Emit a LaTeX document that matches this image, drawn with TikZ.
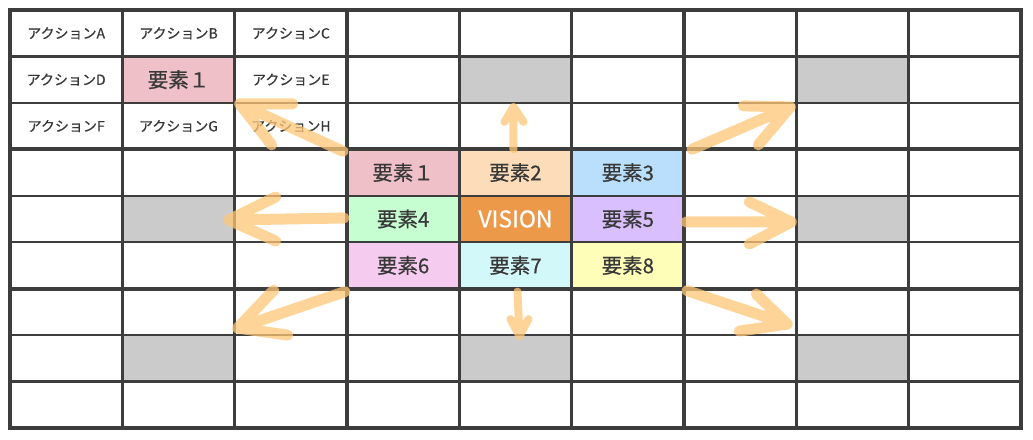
\documentclass[tikz,border=0pt]{standalone}
\usepackage{fontspec}
\setmainfont{Noto Sans CJK JP}[FakeBold=0.5]

\definecolor{gridline}{HTML}{3D3D3D}
\definecolor{textgray}{HTML}{383838}
\definecolor{blankgray}{HTML}{CBCBCB}
\definecolor{arroworange}{HTML}{FEC677}
\definecolor{visionorange}{HTML}{EC9A4A}
\definecolor{el1}{HTML}{F0C0C8}
\definecolor{el2}{HTML}{FDDDB9}
\definecolor{el3}{HTML}{B9DFFD}
\definecolor{el4}{HTML}{C6FDD1}
\definecolor{el5}{HTML}{D9BFFD}
\definecolor{el6}{HTML}{F5CCF0}
\definecolor{el7}{HTML}{D3F8FA}
\definecolor{el8}{HTML}{FEFEB9}

\begin{document}
\begin{tikzpicture}[
    x=1pt, y=-1pt,
    every node/.style={font=\fontsize{14}{16}\selectfont, text=textgray},
    cell/.style={minimum width=\cw pt, minimum height=\ch pt, inner sep=0pt, outer sep=0pt},
    element/.style={cell, font=\fontsize{20.5}{22}\selectfont},
    blank/.style={cell, fill=blankgray},
    thinline/.style={draw=gridline, line width=2.5pt},
    thickline/.style={draw=gridline, line width=4pt, line cap=rect},
    handarrow/.style={draw=arroworange, draw opacity=0.75, line width=11pt, line cap=round, line join=round}
]
    \def\cw{112.33}
    \def\ch{46.44}

    \useasboundingbox (0,0) rectangle (1033,439);

    % top-left block: actions
    \foreach \i/\j/\name/\txt in {
        0/0/actA/アクションA, 1/0/actB/アクションB, 2/0/actC/アクションC,
        0/1/actD/アクションD, 2/1/actE/アクションE,
        0/2/actF/アクションF, 1/2/actG/アクションG, 2/2/actH/アクションH
    }{
        \node[cell] (\name) at ({10+(\i+0.5)*\cw},{10+(\j+0.5)*\ch}) {\txt};
    }
    \node[element, fill=el1] (sub1) at ({10+1.5*\cw},{10+1.5*\ch}) {要素１};

    % centre block
    \foreach \i/\j/\name/\col/\txt in {
        3/3/e1/el1/要素１, 4/3/e2/el2/要素2, 5/3/e3/el3/要素3,
        3/4/e4/el4/要素4, 5/4/e5/el5/要素5,
        3/5/e6/el6/要素6, 4/5/e7/el7/要素7, 5/5/e8/el8/要素8
    }{
        \node[element, fill=\col] (\name) at ({10+(\i+0.5)*\cw},{10+(\j+0.5)*\ch}) {\txt};
    }
    \node[element, fill=visionorange, text=white, font=\fontsize{23}{25}\selectfont]
        (vision) at ({10+4.5*\cw},{10+4.5*\ch}) {VISION};

    % grey centres of the outer blocks
    \foreach \i/\j/\name in {4/1/sub2, 7/1/sub3, 1/4/sub4, 7/4/sub5, 1/7/sub6, 4/7/sub7, 7/7/sub8}{
        \node[blank] (\name) at ({10+(\i+0.5)*\cw},{10+(\j+0.5)*\ch}) {};
    }

    % grid
    \foreach \k in {1,2,4,5,7,8}{
        \draw[thinline] ({10+\k*\cw},10) -- ({10+\k*\cw},{10+9*\ch});
        \draw[thinline] (10,{10+\k*\ch}) -- ({10+9*\cw},{10+\k*\ch});
    }
    \foreach \k in {0,3,6,9}{
        \draw[thickline] ({10+\k*\cw},10) -- ({10+\k*\cw},{10+9*\ch});
        \draw[thickline] (10,{10+\k*\ch}) -- ({10+9*\cw},{10+\k*\ch});
    }

    % arrow tips
    \coordinate (tip1) at ([shift={(5,1)}]sub1.south east);
    \coordinate (tip2) at ([shift={(-2,4)}]sub2.south);
    \coordinate (tip3) at ([shift={(-6,4)}]sub3.south west);
    \coordinate (tip4) at ([shift={(-6,1)}]sub4.east);
    \coordinate (tip5) at ([shift={(-5,3)}]sub5.west);
    \coordinate (tip6) at ([shift={(3,-7)}]sub6.north east);
    \coordinate (tip7) at ([shift={(4,1)}]sub7.north);
    \coordinate (tip8) at ([shift={(-9,-11)}]sub8.north west);

    % hand drawn arrows
    \draw[handarrow] ([shift={(-4,2)}]e1.north west) -- (tip1)
        ([shift={(53,0)}]tip1) -- (tip1) -- ([shift={(32,41)}]tip1);
    \draw[handarrow, line width=8pt] ([shift={(-2,0)}]e2.north) -- (tip2)
        ([shift={(-9,15)}]tip2) -- (tip2) -- ([shift={(10,15)}]tip2);
    \draw[handarrow] ([shift={(8,0)}]e3.north east) -- (tip3)
        ([shift={(-47,-1)}]tip3) -- (tip3) -- ([shift={(-32,38)}]tip3);
    \draw[handarrow] ([shift={(-3,-1)}]e4.west) -- (tip4)
        ([shift={(47,-23)}]tip4) -- (tip4) -- ([shift={(47,21)}]tip4);
    \draw[handarrow] ([shift={(2,3)}]e5.east) -- (tip5)
        ([shift={(-42,-20)}]tip5) -- (tip5) -- ([shift={(-42,22)}]tip5);
    \draw[handarrow] ([shift={(-2,3)}]e6.south west) -- (tip6)
        ([shift={(36,-38)}]tip6) -- (tip6) -- ([shift={(50,7)}]tip6);
    \draw[handarrow, line width=8pt] ([shift={(2,3)}]e7.south) -- (tip7)
        ([shift={(-9,-17)}]tip7) -- (tip7) -- ([shift={(9,-17)}]tip7);
    \draw[handarrow] ([shift={(3,2)}]e8.south east) -- (tip8)
        ([shift={(-31,-30)}]tip8) -- (tip8) -- ([shift={(-48,7)}]tip8);
\end{tikzpicture}
\end{document}
